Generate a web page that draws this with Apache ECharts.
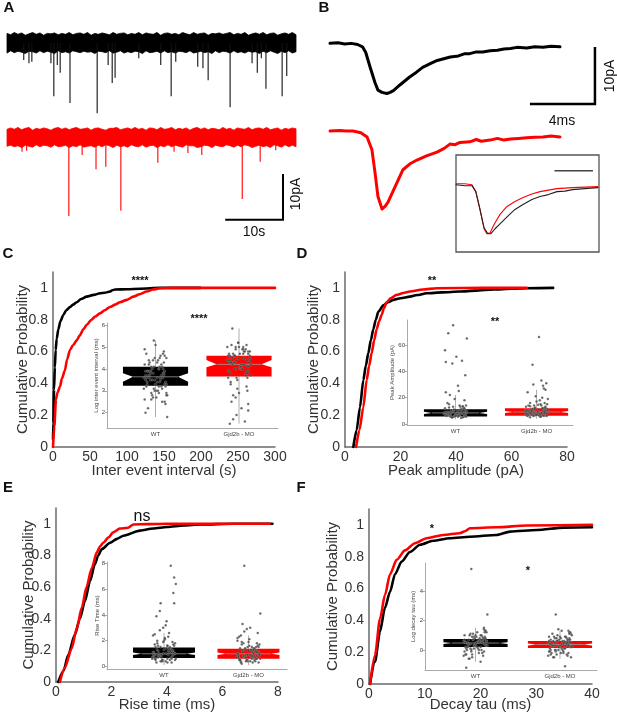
<!DOCTYPE html>
<html><head><meta charset="utf-8">
<script src="https://cdn.jsdelivr.net/npm/echarts@6/dist/echarts.min.js"></script>
<style>html,body{margin:0;padding:0;background:#fff}#c{width:617px;height:715px}</style>
</head><body><div id="c"></div>
<script>
// ---------------- DATA ----------------
const groups = ['WT', 'Gjd2b - MO'];
// Panel A: raw traces (baseline noise in pA, events [time s, amplitude pA])
const noiseWT = [0.1,-0.2,0.3,-0.1,0.2,-0.3,0.0,0.3,-0.1,0.2,-0.3,0.1,0.0,0.2,-0.2,0.1,-0.1,0.3,-0.2,0.1,0.2,-0.1,0.3,-0.3,0.1,-0.1,0.2,0.0,-0.2,0.3,-0.1,0.1,0.2,-0.2,0.1,-0.1,0.3,-0.2,0.2,0.0,-0.1,0.3,-0.3,0.1,0.2,-0.1,0.1,-0.2,0.3,0.0,-0.2,0.3,-0.1,0.1,0.2,-0.3,0.1,0.0,0.2,-0.1,0.1,0.3,-0.2,0.1,-0.1,0.3,-0.3,0.0,0.2,-0.1,0.3,-0.2,0.1,0.2,-0.3,0.0,0.2,-0.1,0.3,-0.2];
const noiseMO = [-0.1,0.2,-0.1,0.3,-0.2,0.1,0.3,-0.3,0.1,-0.1,0.2,0.0,-0.3,0.1,0.3,-0.1,0.2,-0.2,0.1,0.3,-0.1,0.0,0.2,-0.3,0.1,0.2,-0.1,-0.3,0.1,0.1,0.3,-0.2,0.0,0.2,-0.1,0.3,-0.1,0.1,-0.3,0.2,0.1,-0.2,0.3,-0.1,0.0,0.3,-0.2,0.1,-0.1,0.2,-0.3,0.1,0.3,-0.1,0.2,-0.2,0.1,0.0,-0.2,0.3,-0.1,0.1,-0.3,0.2,0.0,-0.1,0.3,-0.2,0.1,0.2,-0.1,0.3,-0.2,0.0,0.2,-0.3,0.1,-0.1,0.2,0.0];
const eventsWT = [[2.9,3.7],[3.8,4.4],[4.3,4.1],[7.6,4.4],[8.1,11.6],[8.7,4.8],[9.2,6.5],[10.9,13.1],[15.6,15.3],[17.5,4.8],[18.2,8.7],[18.7,7.6],[22.8,3.3],[26.6,4.8],[28.4,11.6],[29.2,4.1],[33.0,5.2],[33.9,5.5],[34.8,8.1],[38.6,14.0],[42.4,4.4],[43.3,6.5],[44.0,3.3],[44.8,10.0],[47.6,11.6],[48.4,7.2]];
const eventsMO = [[2.6,3.1],[3.4,2.9],[10.7,17.1],[13.0,3.8],[15.4,6.9],[17.1,6.4],[19.7,16.0],[26.1,5.5],[28.9,3.1],[31.3,3.4],[33.7,3.8],[40.7,13.4],[43.8,5.3],[46.5,2.8]];
const scaleA = [10, 10];   // 10 s, 10 pA
// Panel B: averaged events [time ms, pA]
const avgWT = [[0,0.1],[0.5,0.2],[0.9,0],[1.3,0.1],[1.7,-0.1],[2.0,-0.5],[2.2,-1.5],[2.46,-4.0],[2.77,-6.8],[2.95,-8.1],[3.2,-8.5],[3.5,-8.7],[3.7,-8.5],[3.9,-8.2],[4.3,-7.2],[4.9,-5.8],[5.3,-5.0],[5.7,-4.1],[6.2,-3.4],[6.6,-2.9],[7.0,-2.6],[7.4,-2.3],[7.9,-2.1],[8.3,-1.7],[8.6,-1.7],[9.0,-1.4],[9.4,-1.4],[9.85,-1.2],[10.3,-1.1],[10.7,-0.9],[11.1,-0.8],[11.5,-0.6],[12.1,-0.7],[12.6,-0.5],[13.1,-0.6],[13.6,-0.4],[14.15,-0.5]];
const avgMO = [[0,0],[0.6,0.1],[1.0,0],[1.42,0],[1.9,-0.3],[2.28,-1.05],[2.58,-3.3],[2.77,-7.3],[2.95,-11.5],[3.2,-13.7],[3.4,-13.2],[3.57,-12.5],[4.0,-9.8],[4.49,-6.8],[4.9,-5.8],[5.35,-5.1],[5.9,-4.4],[6.58,-3.7],[7.0,-3.1],[7.38,-2.3],[7.7,-2.4],[8.0,-2.0],[8.6,-1.9],[9.0,-1.5],[9.3,-1.8],[9.85,-1.6],[10.3,-1.3],[10.7,-1.6],[11.1,-1.4],[11.6,-1.3],[12.1,-1.2],[12.6,-1.1],[13.1,-1.05],[13.6,-0.9],[14.15,-1.05]];
const scaleB = [4, 10];    // 4 ms, 10 pA
const normWT = [[0,0],[0.8,-0.02],[1.45,-0.02],[1.8,-0.14],[2.18,-0.5],[2.55,-0.87],[2.9,-0.99],[3.18,-0.99],[3.55,-0.89],[4.0,-0.79],[4.64,-0.65],[5.36,-0.5],[6.09,-0.4],[6.9,-0.3],[7.64,-0.24],[8.4,-0.2],[9.18,-0.14],[9.9,-0.13],[10.6,-0.1],[11.7,-0.08],[12.9,-0.06]];
const normMO = [[0,0.02],[0.8,0.02],[1.45,0],[1.8,-0.14],[2.18,-0.5],[2.55,-0.89],[2.8,-0.99],[3.1,-0.97],[3.45,-0.81],[4.0,-0.6],[4.64,-0.44],[5.36,-0.34],[6.09,-0.26],[6.9,-0.19],[7.64,-0.14],[8.4,-0.11],[9.18,-0.08],[10.6,-0.06],[12.9,-0.04]];
const scaleInset = [3.5];
// Panels C-F: cumulative distributions [value, probability]
const cdfIEI_WT = [[0,0.05],[0.5,0.15],[1.35,0.36],[2.5,0.5],[3.6,0.61],[5,0.68],[7.2,0.74],[10,0.79],[14,0.83],[18,0.86],[23,0.88],[27,0.895],[32,0.91],[38,0.93],[45.5,0.945],[55,0.956],[63.5,0.966],[70,0.97],[77,0.977],[80,0.985],[84,0.99],[100,0.992],[117.6,0.995],[144.6,1],[199,1]];
const cdfIEI_MO = [[0,0],[1.8,0.13],[4,0.3],[6,0.34],[9.5,0.38],[12,0.43],[16,0.48],[19,0.55],[23,0.61],[27,0.64],[32,0.67],[36,0.7],[41,0.74],[46,0.77],[52,0.8],[57,0.82],[63.5,0.84],[70,0.86],[77,0.88],[84,0.895],[90.5,0.91],[100,0.925],[108.5,0.945],[117,0.96],[126.6,0.977],[135,0.99],[144.6,0.998],[160,1],[300,1]];
const cdfAmp_WT = [[3,0],[4.2,0.107],[5.4,0.25],[6.6,0.42],[7.5,0.51],[8.4,0.59],[9.3,0.67],[10.2,0.74],[11.1,0.8],[12,0.85],[13.8,0.89],[15.5,0.91],[17.4,0.925],[20,0.935],[23.4,0.945],[26,0.955],[29.4,0.966],[35,0.972],[41.4,0.977],[47,0.983],[53.5,0.99],[60,0.995],[65.5,0.998],[75,1]];
const cdfAmp_MO = [[4,0],[5.2,0.107],[6.6,0.25],[7.8,0.42],[8.7,0.51],[9.6,0.59],[10.5,0.67],[11.4,0.74],[12.3,0.79],[13.2,0.83],[14,0.87],[15,0.91],[16.5,0.935],[18.6,0.956],[21,0.968],[23.4,0.977],[28,0.99],[33,0.998],[50,1],[65.5,1]];
const cdfRise_WT = [[0.08,0],[0.27,0.07],[0.44,0.17],[0.68,0.3],[0.86,0.4],[1.04,0.51],[1.23,0.64],[1.4,0.745],[1.52,0.8],[1.65,0.84],[1.95,0.88],[2.2,0.905],[2.43,0.925],[3.03,0.957],[3.5,0.97],[4.0,0.98],[4.6,0.99],[5.2,0.996],[6.4,1],[7.8,1]];
const cdfRise_MO = [[0.14,0],[0.32,0.09],[0.56,0.21],[0.75,0.34],[0.93,0.47],[1.1,0.6],[1.29,0.72],[1.47,0.82],[1.6,0.86],[1.7,0.88],[1.9,0.915],[2.06,0.946],[2.3,0.97],[2.6,0.975],[2.79,0.996],[3.3,0.998],[4.0,1],[7.7,1]];
const cdfTau_WT = [[0.18,0],[1.08,0.14],[1.97,0.33],[2.87,0.48],[3.77,0.58],[4.66,0.69],[5.86,0.77],[7.35,0.83],[9.15,0.875],[11.5,0.9],[14.5,0.916],[18.1,0.926],[22.9,0.937],[25.3,0.958],[30.1,0.968],[34.9,0.983],[40,0.985]];
const cdfTau_MO = [[0.18,0],[1.08,0.18],[1.97,0.41],[2.87,0.56],[3.77,0.69],[4.96,0.78],[6.46,0.84],[8.25,0.885],[10.35,0.916],[13.3,0.937],[16.3,0.948],[17.2,0.96],[18.1,0.979],[22.9,0.985],[28.3,0.996],[40,1]];
// Box stats per group: [low, q1, notchLow, median, notchHigh, q3, high]
const boxIEI  = [[1.8,3.23,3.42,3.64,3.8,4.1,5.3],[1.5,3.65,4.08,4.21,4.41,4.6,5.85]];
const boxAmp  = [[3.5,5.6,7.6,8.4,9.2,11.2,22],[4,6.3,8.3,9.1,9.9,11.9,26]];
const boxRise = [[0.1,0.65,0.88,0.98,1.08,1.46,2.6],[0.1,0.6,0.88,0.98,1.08,1.37,2.4]];
const boxTau  = [[-0.8,0.2,0.41,0.47,0.53,0.75,1.5],[-0.6,0.14,0.31,0.37,0.43,0.61,1.3]];
// Jitter offsets of the individual events (group units)
const jitter = [0.02,-0.11,0.08,-0.04,0.13,-0.09,0.05,-0.13,0.10,-0.01,0.07,-0.07,0.12,-0.12,0.00,0.09,-0.05,0.04,-0.10,0.11,-0.03,0.06,-0.08,0.14,-0.14,0.03,-0.06,0.08,-0.02,0.12,-0.11,0.01,0.10,-0.09,0.05,-0.04,0.13,-0.13,0.07,-0.07,0.02,-0.12,0.09,-0.01,0.11,-0.05,0.04,-0.10,
  -0.06,0.11,-0.02,0.07,-0.12,0.04,-0.08,0.13,-0.03,0.09,-0.14,0.01,0.06,-0.10,0.12,-0.05,0.03,-0.09,0.10,-0.01,0.14,-0.07,0.05,-0.11,0.08,-0.04,0.02,-0.13,0.11,-0.06,0.00,0.09,-0.08,0.13,-0.02,0.06,-0.12,0.04,-0.03,0.10];
const ptsIEI_WT = [3.6,3.2,4.1,2.8,4.5,3.9,3.4,2.6,4.8,3.0,3.7,4.3,2.4,3.5,5.1,3.8,2.9,4.0,3.3,4.6,2.7,3.6,4.2,1.8,3.1,4.4,3.9,2.5,5.3,3.4,4.7,3.0,3.8,2.2,4.1,3.5,2.8,4.9,3.2,3.7,4.3,2.0,3.6,4.5,3.3,2.6,4.0,3.9,
  3.5,3.9,3.1,4.2,3.7,2.9,4.4,3.3,3.8,4.0,3.6,2.7,4.6,3.4,3.2,4.1,3.0,3.7,4.3,3.5,2.8,3.9,4.5,3.6,3.1,4.0,3.4,4.2,2.5,3.8,3.3,4.7,3.6,2.9,4.1,3.5,3.9,3.2,4.4,3.7];
const ptsIEI_MO = [4.2,4.6,3.8,5.0,4.4,2.5,4.9,3.6,4.1,5.2,1.6,4.7,3.9,4.3,2.9,5.1,4.0,4.5,3.3,4.8,1.9,4.2,5.85,3.7,4.4,2.2,4.6,4.9,3.5,4.1,1.5,4.7,3.0,4.3,5.0,2.7,4.5,3.9,4.8,1.7,4.0,4.4,3.2,5.2,2.1,4.6,4.2,3.8,
  4.3,4.7,4.0,4.5,3.9,4.9,4.2,4.6,3.6,4.4,5.0,4.1,4.8,3.4,4.3,4.6,4.0,5.1,3.8,4.5,4.2,2.8,4.7,4.4,3.7,4.9,4.1,4.6,2.4,4.3,5.0,3.9,4.5,4.8,3.1,4.2,4.7,4.0,4.4,3.6];
const ptsAmp_WT = [8,6,11,5,14,9,7,12,5.5,19,8.5,6.5,10,24,7.5,13,5,9.5,16,6,75,11,7,65,8,29,5.5,48,10,37,6.5,51,12,69,7,46,9,56,4.5,22,8,47,13.5,6,18,9,25,7.5,
  7,9,5.5,11,8,6,12.5,7.5,10,5,8.5,6.5,13,9,7,10.5,5.5,8,11.5,6,9.5,7.5,14,6.5,8.5,5,10,7,12,9,6,8,15,5.5,11,7.5,9,6.5,13,8];
const ptsAmp_MO = [9,6,12,7,15,10,5.5,13,8,21,6.5,11,31,7.5,17,9.5,45,6,14,26,8.5,33,5,19,10.5,66,7,29,12.5,6,24,9,16,8,5.5,30,11.5,7,20,10,14.5,6.5,27,8,12,9.5,18,7,
  8,10,6.5,12,9,7,13.5,8.5,11,6,9.5,7.5,14,10,8,11.5,6.5,9,12.5,7,10.5,8.5,15,7.5,9.5,6,11,8,13,10,7,9,16,6.5,12,8.5,10,7.5,14,9];
const ptsRise_WT = [1.0,0.6,1.4,0.4,1.8,0.9,2.3,0.7,1.2,3.0,0.5,1.6,6.9,0.8,2.0,1.1,4.3,0.3,1.5,5.7,0.9,2.6,1.3,6.4,0.6,3.5,1.0,7.8,0.4,4.9,1.7,2.1,0.8,3.9,1.2,4.9,0.5,2.4,1.4,0.7,3.2,1.1,0.3,1.9,0.9,2.8,1.6,0.6,
  0.8,1.2,0.5,1.5,0.9,0.6,1.8,1.0,0.4,1.3,0.7,2.2,1.1,0.5,1.6,0.8,1.4,0.3,1.9,1.0,0.6,1.2,0.9,2.5,0.7,1.5,0.4,1.1,1.7,0.8,1.3,0.6,2.0,1.0,0.5,1.4,0.9,1.6,0.7,1.2];
const ptsRise_MO = [0.9,0.5,1.3,0.7,1.7,0.4,1.1,2.2,0.6,1.5,0.8,3.3,0.3,1.0,1.9,0.6,7.8,1.2,0.5,2.6,0.9,1.4,0.2,4.1,1.0,0.7,1.8,0.4,2.9,1.1,0.6,1.6,0.8,2.4,0.3,1.3,0.9,2.0,0.5,1.2,3.0,0.7,1.5,0.4,1.0,2.7,0.8,1.4,
  0.8,1.1,0.5,1.4,0.9,0.6,1.7,1.0,0.4,1.2,0.7,2.1,1.0,0.5,1.5,0.8,1.3,0.3,1.8,0.9,0.6,1.1,0.8,2.3,0.7,1.4,0.4,1.0,1.6,0.8,1.2,0.6,1.9,0.9,0.5,1.3,0.8,1.5,0.7,1.1];
const ptsTau_WT = [0.5,0.1,0.9,-0.3,1.2,0.4,0.7,-0.1,1.5,0.3,0.6,-0.6,0.8,0.2,1.0,-0.4,5.5,0.5,0.0,1.3,0.7,-0.8,0.4,2.4,0.6,0.1,1.1,-0.2,0.9,0.3,-1.2,0.5,1.4,0.2,0.8,-0.5,0.6,1.0,0.0,0.4,1.2,-0.3,0.7,0.3,0.9,-0.1,0.5,0.2,
  0.4,0.8,0.1,1.0,0.5,-0.2,0.7,0.3,1.1,0.6,-0.4,0.9,0.2,0.5,1.3,0.0,0.7,0.4,-0.1,0.8,0.3,1.0,0.6,-0.3,0.5,0.9,0.2,0.7,1.2,0.1,0.4,0.8,-0.6,0.6,0.3,1.0,0.5,0.0,0.7,0.4];
const ptsTau_MO = [0.4,0.0,0.8,-0.3,1.1,0.3,0.6,-0.1,1.3,0.2,0.5,-0.5,0.7,0.1,0.9,-0.4,2.4,0.4,-0.2,1.2,0.6,-1.1,0.3,1.0,0.5,0.0,0.8,-0.3,1.4,0.2,0.7,-0.2,0.4,1.1,0.1,0.6,-0.5,0.9,0.3,0.5,1.3,-0.1,0.6,0.2,0.8,0.0,0.4,0.3,
  0.3,0.7,0.0,0.9,0.4,-0.2,0.6,0.2,1.0,0.5,-0.4,0.8,0.1,0.4,1.2,-0.1,0.6,0.3,-0.2,0.7,0.2,0.9,0.5,-0.3,0.4,0.8,0.1,0.6,1.1,0.0,0.3,0.7,-0.5,0.5,0.2,0.9,0.4,-0.1,0.6,0.3];
const yTicksMain = [0,0.2,0.4,0.6,0.8,1];

// ---------------- LAYOUT / STYLE ----------------
const FONT = '"Liberation Sans", Arial, sans-serif';
const BLACK = '#000000', RED = '#ff0000';
const baseA = [-5.02, -25.64];    // vertical offsets of traces in panel A (pA)
const halfBand = [2.0, 1.9];      // half thickness of noise band (pA)
const baseB = [-4.2, -19.47];     // vertical offsets in panel B (pA)

const grids = [
  {left:7, top:20, width:289, height:220},
  {left:330, top:20, width:276, height:228},
  {left:456, top:155, width:143, height:97, show:true, borderColor:'#555', borderWidth:1.3},
  {left:53, top:272, width:222, height:175},
  {left:107, top:323, width:171, height:105},
  {left:345, top:272, width:222, height:175},
  {left:407, top:320, width:166, height:105},
  {left:56, top:508, width:222, height:174},
  {left:107, top:562, width:180, height:107},
  {left:369, top:509, width:223, height:175},
  {left:425, top:563, width:172, height:107}
].map(g => Object.assign({containLabel:false, outerBoundsMode:'none'}, g));

const hidden = (gi, min, max) => ({type:'value', gridIndex:gi, min, max, show:false, splitLine:{show:false}});
const mainX = (gi, max, step, name, gap) => ({type:'value', gridIndex:gi, min:0, max, interval:step,
  axisLine:{show:true, onZero:false, lineStyle:{color:'#6a6a6a', width:1.5}}, axisTick:{show:false}, splitLine:{show:false},
  axisLabel:{color:'#333', fontSize:14, margin:3, fontFamily:FONT},
  name, nameLocation:'middle', nameGap:gap, nameMoveOverlap:false, nameTextStyle:{color:'#333', fontSize:15, fontFamily:FONT}});
const mainY = (gi, gap) => ({type:'value', gridIndex:gi, min:0, max:1.1,
  axisLine:{show:true, onZero:false, lineStyle:{color:'#6a6a6a', width:1.5}}, axisTick:{show:false}, splitLine:{show:false},
  axisLabel:{color:'#333', fontSize:14, margin:5, fontFamily:FONT, customValues:yTicksMain},
  name:'Cumulative Probability', nameLocation:'middle', nameGap:gap, nameMoveOverlap:false, nameTextStyle:{color:'#333', fontSize:15, fontFamily:FONT}});
const insX = (gi, min, max) => ({type:'value', gridIndex:gi, min, max,
  axisLine:{show:true, onZero:false, lineStyle:{color:'#aaa', width:1}}, axisTick:{show:false}, splitLine:{show:false},
  axisLabel:{color:'#444', fontSize:6, margin:3, fontFamily:FONT, customValues:[1,2], formatter:v => groups[Math.round(v)-1]}});
const insY = (gi, min, max, ticks, name, gap) => ({type:'value', gridIndex:gi, min, max,
  axisLine:{show:true, onZero:false, lineStyle:{color:'#aaa', width:1}}, axisTick:{show:true, length:2, customValues:ticks, lineStyle:{color:'#aaa'}}, splitLine:{show:false},
  axisLabel:{color:'#444', fontSize:6, margin:2, fontFamily:FONT, customValues:ticks},
  name, nameLocation:'middle', nameGap:gap, nameMoveOverlap:false, nameTextStyle:{color:'#444', fontSize:6, fontFamily:FONT}});

const xAxes = [
  hidden(0, 0, 50), hidden(1, 0, 16.98), hidden(2, 0, 13),
  mainX(3, 300, 50, 'Inter event interval (s)', 16), insX(4, 0.419, 2.467),
  mainX(5, 80, 20, 'Peak amplitude (pA)', 16), insX(6, 0.401, 2.45),
  mainX(7, 8, 2, 'Rise time (ms)', 15), insX(8, 0.325, 2.456),
  mainX(9, 40, 10, 'Decay tau (ms)', 13), insX(10, 0.402, 2.438)
];
const yAxes = [
  hidden(0, -48, 0), hidden(1, -40, 0), hidden(2, -1.36, 0.6),
  mainY(3, 23), insY(4, 1.3, 6.1, [2,3,4,5,6], 'Log inter event interval (ms)', 8),
  mainY(5, 24), insY(6, -0.8, 79, [0,20,40,60], 'Peak Amplitude (pA)', 12),
  mainY(7, 20), insY(8, -0.2, 8.1, [0,2,4,6,8], 'Rise Time (ms)', 7),
  mainY(9, 29), insY(10, -1.36, 5.9, [0,2,4], 'Log decay tau (ms)', 9)
];

const series = [];
function line(gi, data, color, width, extra) {
  series.push(Object.assign({type:'line', xAxisIndex:gi, yAxisIndex:gi, data, showSymbol:false, symbol:'none', silent:true,
    lineStyle:{color, width, join:'round', cap:'round'}, clip:false, z:3}, extra || {}));
}
// noise band of a raw trace: items [t, top edge, bottom edge]; one polygon drawn through the axes
function band(gi, noise, base, half, color) {
  const n = noise.length, dt = 50 / (n - 1);
  const rev = noise.slice().reverse();
  const data = noise.map((v, i) => [i * dt, base + half + v, base - half + rev[i]]);
  series.push({type:'custom', xAxisIndex:gi, yAxisIndex:gi, data, clip:false, silent:true, z:2,
    renderItem:(p, api) => {
      if (p.dataIndex !== 0) return null;
      const top = data.map(d => api.coord([d[0], d[1]]));
      const bot = data.map(d => api.coord([d[0], d[2]])).reverse();
      return {type:'polygon', shape:{points:top.concat(bot)}, style:{fill:color, stroke:color, lineWidth:0.8}};
    }});
}
function events(gi, data, base, color, w) {
  series.push({type:'custom', xAxisIndex:gi, yAxisIndex:gi, data, clip:false, silent:true, z:2,
    renderItem:(p, api) => {
      const a = api.coord([api.value(0), base]);
      const b = api.coord([api.value(0), base - api.value(1)]);
      return {type:'line', shape:{x1:a[0], y1:a[1], x2:b[0], y2:b[1]}, style:{stroke:color, lineWidth:w}};
    }});
}
function boxes(gi, stats, hw, nd) {
  series.push({type:'custom', xAxisIndex:gi, yAxisIndex:gi, data:stats.map((s, i) => [i + 1].concat(s)), clip:false, silent:true, z:2,
    renderItem:(p, api) => {
      const x = api.value(0), v = k => api.value(k);
      const c = (xx, yy) => api.coord([xx, yy]);
      const col = p.dataIndex === 0 ? BLACK : RED;
      const lo=v(1), q1=v(2), nl=v(3), md=v(4), nh=v(5), q3=v(6), hi=v(7);
      const poly = [c(x-hw,q1), c(x-hw,nl), c(x-hw+nd,md), c(x-hw,nh), c(x-hw,q3), c(x+hw,q3), c(x+hw,nh), c(x+hw-nd,md), c(x+hw,nl), c(x+hw,q1)];
      const a = c(x, lo), b = c(x, hi), m1 = c(x-hw+nd, md), m2 = c(x+hw-nd, md);
      return {type:'group', children:[
        {type:'line', shape:{x1:a[0], y1:a[1], x2:b[0], y2:b[1]}, style:{stroke:'#999', lineWidth:0.8}},
        {type:'polygon', shape:{points:poly}, style:{fill:col}},
        {type:'line', shape:{x1:m1[0], y1:m1[1], x2:m2[0], y2:m2[1]}, style:{stroke:'#9a9a9a', lineWidth:0.8}}
      ]};
    }});
}
function dots(gi, vals, g) {
  series.push({type:'scatter', xAxisIndex:gi, yAxisIndex:gi, data:vals.map((v, i) => [g + jitter[i % jitter.length], v]),
    symbolSize:2.5, silent:true, z:4, clip:false,
    itemStyle:{color:'#3c3c3c', borderColor:'rgba(255,255,255,0.45)', borderWidth:0.4}});
}

// Panel A
band(0, noiseWT, baseA[0], halfBand[0], BLACK);
events(0, eventsWT, baseA[0], '#111', 1.1);
band(0, noiseMO, baseA[1], halfBand[1], RED);
events(0, eventsMO, baseA[1], RED, 1.1);
const cornerA = [47.75, -43.6];
line(0, [[cornerA[0] - scaleA[0], cornerA[1]], cornerA, [cornerA[0], cornerA[1] + scaleA[1]]], BLACK, 2, {lineStyle:{color:BLACK, width:2, join:'miter', cap:'butt'}});
// Panel B
line(1, avgWT.map(p => [p[0], baseB[0] + p[1]]), BLACK, 3);
line(1, avgMO.map(p => [p[0], baseB[1] + p[1]]), RED, 3);
const cornerB = [16.3, -14.74];
line(1, [[cornerB[0] - scaleB[0], cornerB[1]], cornerB, [cornerB[0], cornerB[1] + scaleB[1]]], BLACK, 2.5, {lineStyle:{color:BLACK, width:2.5, join:'miter', cap:'butt'}});
line(2, normMO, RED, 1.1);
line(2, normWT, '#222', 1.1);
line(2, [[12.45 - scaleInset[0], 0.283], [12.45, 0.283]], '#444', 1.5, {lineStyle:{color:'#444', width:1.5, cap:'butt'}});
// Panels C-F
const sm = {smooth:0.25, smoothMonotone:'x'};
line(3, cdfIEI_WT, BLACK, 2.6, sm); line(3, cdfIEI_MO, RED, 2.6, sm);
boxes(4, boxIEI, 0.39, 0.12); dots(4, ptsIEI_WT, 1); dots(4, ptsIEI_MO, 2);
line(5, cdfAmp_WT, BLACK, 2.6, sm); line(5, cdfAmp_MO, RED, 2.6, sm);
boxes(6, boxAmp, 0.39, 0.1); dots(6, ptsAmp_WT, 1); dots(6, ptsAmp_MO, 2);
line(7, cdfRise_WT, BLACK, 2.6, sm); line(7, cdfRise_MO, RED, 2.6, sm);
boxes(8, boxRise, 0.367, 0.1); dots(8, ptsRise_WT, 1); dots(8, ptsRise_MO, 2);
line(9, cdfTau_WT, BLACK, 2.6, sm); line(9, cdfTau_MO, RED, 2.6, sm);
boxes(10, boxTau, 0.38, 0.1); dots(10, ptsTau_WT, 1); dots(10, ptsTau_MO, 2);

// Text
const txt = (text, x, y, size, opts) => Object.assign({type:'text', x, y, z:100, silent:true,
  style:Object.assign({text, fill:'#111', font:size + 'px ' + FONT, textAlign:'center', textVerticalAlign:'middle'}, (opts && opts.style) || {})},
  opts && opts.rotation ? {rotation:opts.rotation} : {});
const bold = s => ({style:{font:'bold ' + s + 'px ' + FONT}});
const graphic = [
  txt('A', 9, 8, 15, bold(15)), txt('B', 324, 8, 15, bold(15)),
  txt('C', 8, 254, 15, bold(15)), txt('D', 302, 254, 15, bold(15)),
  txt('E', 8, 488, 15, bold(15)), txt('F', 301, 488, 15, bold(15)),
  txt('10pA', 296, 194, 14, {rotation:Math.PI / 2}),
  txt('10s', 254, 232, 14),
  txt('10pA', 610, 76, 14, {rotation:Math.PI / 2}),
  txt('4ms', 562, 121, 14),
  txt('****', 140, 281, 11, bold(11)), txt('****', 199, 319, 11, bold(11)),
  txt('**', 432, 281, 11, bold(11)), txt('**', 495, 322, 11, bold(11)),
  txt('ns', 142, 517, 16),
  txt('*', 432, 529, 11, bold(11)), txt('*', 528, 571, 11, bold(11))
];

const chart = echarts.init(document.getElementById('c'));
chart.setOption({animation:false, backgroundColor:'#fff', grid:grids, xAxis:xAxes, yAxis:yAxes, series, graphic});
</script></body></html>
